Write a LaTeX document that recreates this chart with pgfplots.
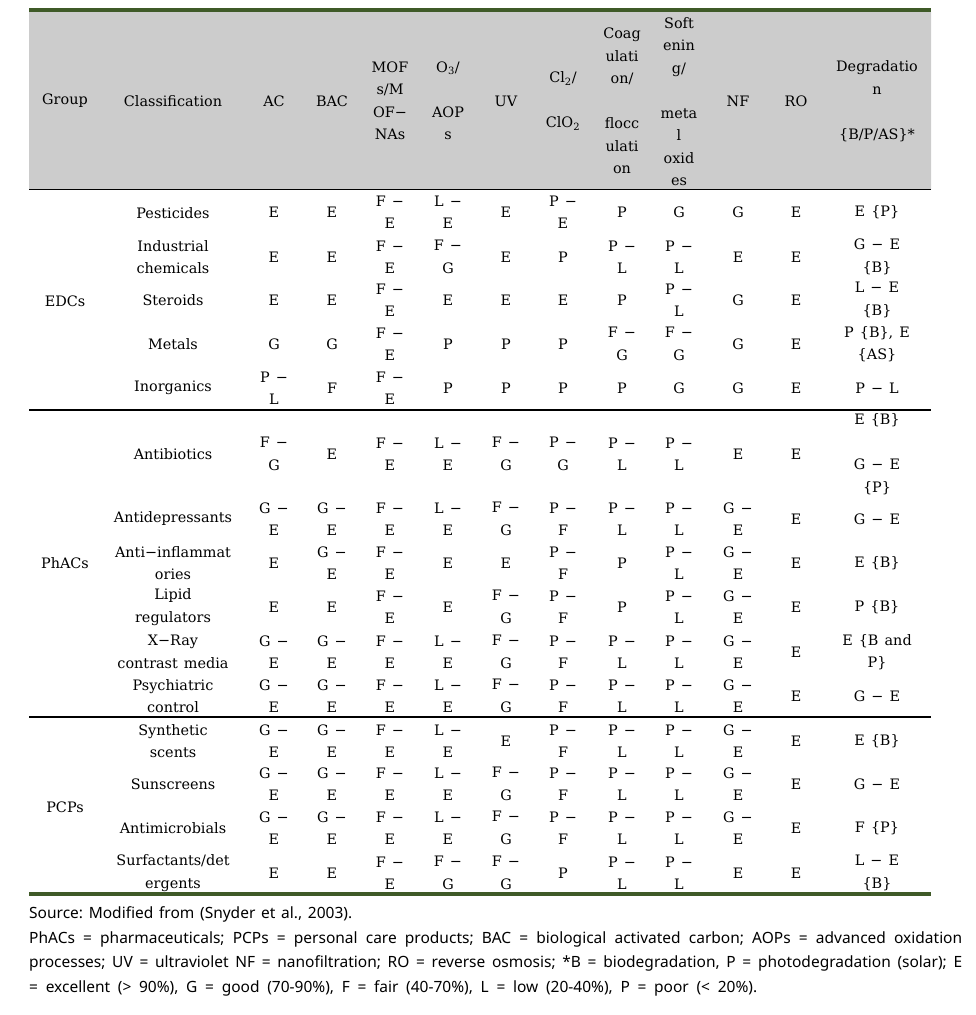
\documentclass[border=0pt]{standalone}
\usepackage{fontspec}
\setmainfont{DejaVu Serif}
\newfontfamily\sansf{Noto Sans}
\usepackage{pgfplots}
\pgfplotsset{compat=1.18}
\definecolor{tgreen}{RGB}{63,90,40}
\definecolor{hgray}{RGB}{204,204,204}
\newcommand{\tf}{\fontsize{14.4}{22.5}\selectfont\spaceskip=0.42em plus 0.1em}
\newcommand{\ff}{\sansf\fontsize{15.5}{25}\selectfont\frenchspacing}
\newcommand{\C}[3]{\node[font=\tf,align=center,inner sep=0pt] at (axis cs:#1,#2) {#3};}
\newcommand{\rowA}[7]{\C{274}{#1}{#2}\C{332}{#1}{#3}\C{390}{#1}{#4}\C{448}{#1}{#5}\C{506}{#1}{#6}\C{563}{#1}{#7}}
\newcommand{\rowB}[6]{\C{622}{#1}{#2}\C{679}{#1}{#3}\C{738}{#1}{#4}\C{796}{#1}{#5}\C{877}{#1}{#6}}
\begin{document}
\begin{tikzpicture}
\begin{axis}[scale only axis, width=975pt, height=1015pt,
  xmin=0, xmax=975, ymin=0, ymax=1015, y dir=reverse,
  axis lines=none, clip=false, no markers]
\addplot[draw=none] coordinates {(0,0) (975,1015)};
% header background
\addplot[fill=hgray, draw=none] coordinates {(29,12) (931,12) (931,189) (29,189) (29,12)};
% rules
\addplot[tgreen, line width=4pt] coordinates {(29,10) (931,10)};
\addplot[black, line width=1.2pt] coordinates {(29,189.5) (931,189.5)};
\addplot[black, line width=1.2pt] coordinates {(29,410) (931,410)};
\addplot[black, line width=1.2pt] coordinates {(29,717) (931,717)};
\addplot[tgreen, line width=4pt] coordinates {(29,894) (931,894)};
% header
\C{65}{101}{Group}
\C{173}{101}{Classification}
\C{274}{101}{AC}
\C{332}{101}{BAC}
\C{390}{101}{MOF\\s/M\\OF−\\NAs}
\C{448}{101}{O\textsubscript{3}/\\[22.5pt]AOP\\s}
\C{506}{101}{UV}
\C{563}{101}{Cl\textsubscript{2}/\\[22.5pt]ClO\textsubscript{2}}
\C{622}{101}{Coag\\ulati\\on/\\[22.5pt]flocc\\ulati\\on}
\C{679}{101.5}{Soft\\enin\\g/\\[22.5pt]meta\\l\\oxid\\es}
\C{738}{101}{NF}
\C{796}{101}{RO}
\C{877}{101}{Degradatio\\n\\[22.5pt]\{B/P/AS\}*}
% groups
\C{65}{301}{EDCs}
\C{65}{563}{PhACs}
\C{65}{807}{PCPs}
% EDCs
\C{173}{213}{Pesticides}
\rowA{212}{E}{E}{F −\\E}{L −\\E}{E}{P −\\E}
\rowB{212}{P}{G}{G}{E}{E \{P\}}
\C{173}{257}{Industrial\\chemicals}
\rowA{257}{E}{E}{F −\\E}{F −\\G}{E}{P}
\rowB{257}{P −\\L}{P −\\L}{E}{E}{G − E\\\{B\}}
\C{173}{300}{Steroids}
\rowA{300}{E}{E}{F −\\E}{E}{E}{E}
\rowB{300}{P}{P −\\L}{G}{E}{L − E\\\{B\}}
\C{173}{344}{Metals}
\rowA{344}{G}{G}{F −\\E}{P}{P}{P}
\rowB{344}{F −\\G}{F −\\G}{G}{E}{P \{B\}, E\\\{AS\}}
\C{173}{388}{Inorganics}
\rowA{388}{P −\\L}{F}{F −\\E}{P}{P}{P}
\rowB{388}{P}{G}{G}{E}{P − L}
% PhACs
\C{173}{454}{Antibiotics}
\rowA{454}{F −\\G}{E}{F −\\E}{L −\\E}{F −\\G}{P −\\G}
\rowB{454}{P −\\L}{P −\\L}{E}{E}{E \{B\}\\[22.5pt]G − E\\\{P\}}
\C{173}{519}{Antidepressants}
\rowA{519}{G −\\E}{G −\\E}{F −\\E}{L −\\E}{F −\\G}{P −\\F}
\rowB{519}{P −\\L}{P −\\L}{G −\\E}{E}{G − E}
\C{173}{563}{Anti−inflammat\\ories}
\rowA{563}{E}{G −\\E}{F −\\E}{E}{E}{P −\\F}
\rowB{563}{P}{P −\\L}{G −\\E}{E}{E \{B\}}
\C{173}{607}{Lipid\\regulators}
\rowA{607}{E}{E}{F −\\E}{E}{F −\\G}{P −\\F}
\rowB{607}{P}{P −\\L}{G −\\E}{E}{P \{B\}}
\C{173}{652}{X−Ray\\contrast media}
\rowA{652}{G −\\E}{G −\\E}{F −\\E}{L −\\E}{F −\\G}{P −\\F}
\rowB{652}{P −\\L}{P −\\L}{G −\\E}{E}{E \{B and\\P\}}
\C{173}{696}{Psychiatric\\control}
\rowA{696}{G −\\E}{G −\\E}{F −\\E}{L −\\E}{F −\\G}{P −\\F}
\rowB{696}{P −\\L}{P −\\L}{G −\\E}{E}{G − E}
% PCPs
\C{173}{741}{Synthetic\\scents}
\rowA{741}{G −\\E}{G −\\E}{F −\\E}{L −\\E}{E}{P −\\F}
\rowB{741}{P −\\L}{P −\\L}{G −\\E}{E}{E \{B\}}
\C{173}{784}{Sunscreens}
\rowA{784}{G −\\E}{G −\\E}{F −\\E}{L −\\E}{F −\\G}{P −\\F}
\rowB{784}{P −\\L}{P −\\L}{G −\\E}{E}{G − E}
\C{173}{828}{Antimicrobials}
\rowA{828}{G −\\E}{G −\\E}{F −\\E}{L −\\E}{F −\\G}{P −\\F}
\rowB{828}{P −\\L}{P −\\L}{G −\\E}{E}{F \{P\}}
\C{173}{873}{Surfactants/det\\ergents}
\rowA{873}{E}{E}{F −\\E}{F −\\G}{F −\\G}{P}
\rowB{873}{P −\\L}{P −\\L}{E}{E}{L − E\\\{B\}}
% footnote
\node[anchor=west, font=\ff, inner sep=0pt] at (axis cs:29,914) {\makebox[323pt][s]{Source: Modified from (Snyder et al., 2003).}};
\node[anchor=west, font=\ff, inner sep=0pt] at (axis cs:29,939) {\makebox[933pt][s]{PhACs = pharmaceuticals; PCPs = personal care products; BAC = biological activated carbon; AOPs = advanced oxidation}};
\node[anchor=west, font=\ff, inner sep=0pt] at (axis cs:29,963) {\makebox[933pt][s]{processes; UV = ultraviolet NF = nanofiltration; RO = reverse osmosis; *B = biodegradation, P = photodegradation (solar); E}};
\node[anchor=west, font=\ff, inner sep=0pt] at (axis cs:29,988) {\makebox[728pt][s]{= excellent (> 90\%), G = good (70-90\%), F = fair (40-70\%), L = low (20-40\%), P = poor (< 20\%).}};
\end{axis}
\end{tikzpicture}
\end{document}
